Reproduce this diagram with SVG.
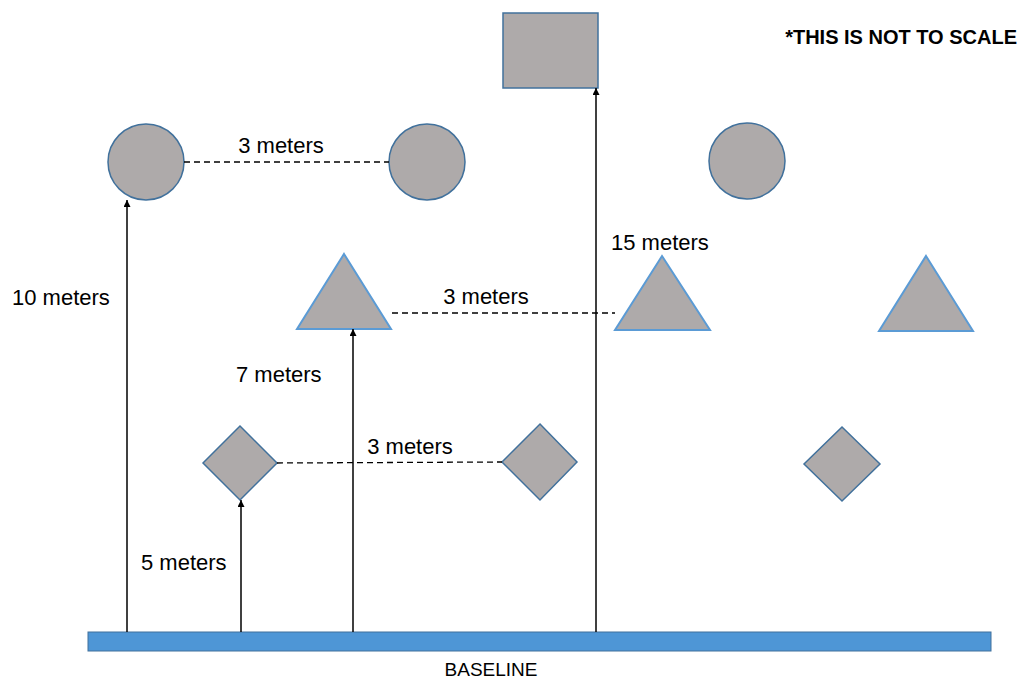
<svg xmlns="http://www.w3.org/2000/svg" width="1021" height="681" viewBox="0 0 1021 681">
<style>
.shape{fill:#aeaaaa;stroke:#41719c;stroke-width:1.5}
.tri{fill:#aeaaaa;stroke:#5b9bd5;stroke-width:2}
.lbl{font-family:"Liberation Sans",Arial,sans-serif;font-size:22px;fill:#000}
.dash{stroke:#000;stroke-width:1.3;stroke-dasharray:6 4;fill:none}
.arr{stroke:#000;stroke-width:1.5;fill:none;marker-end:url(#ah)}
</style>
<defs>
<marker id="ah" viewBox="0 0 10 10" refX="10" refY="5" markerWidth="7" markerHeight="7" orient="auto" markerUnits="userSpaceOnUse">
<path d="M0,0 L10,5 L0,10 z" fill="#000"/>
</marker>
</defs>
<rect width="1021" height="681" fill="#fff"/>
<g id="baseline">
<rect x="88" y="632" width="903" height="19" fill="#4e96d6" stroke="#41719c" stroke-width="1"/>
<text class="lbl" x="491" y="676" text-anchor="middle" style="font-size:19px">BASELINE</text>
</g>
<g id="square"><rect class="shape" x="503" y="13" width="95" height="75"/></g>
<g id="circle1"><circle class="shape" cx="146" cy="162" r="38"/></g>
<g id="circle2"><circle class="shape" cx="427" cy="162" r="38"/></g>
<g id="circle3"><circle class="shape" cx="747" cy="161" r="38"/></g>
<g id="triangle1"><polygon class="tri" points="344,254 391,329 297,329"/></g>
<g id="triangle2"><polygon class="tri" points="662,256 710,330 615,330"/></g>
<g id="triangle3"><polygon class="tri" points="926,256 973,331 879,331"/></g>
<g id="diamond1"><polygon class="shape" points="240,426 277,463 240,500 203,463"/></g>
<g id="diamond2"><polygon class="shape" points="540,424 577,462 540,500 502,462"/></g>
<g id="diamond3"><polygon class="shape" points="842,427 880,464 842,501 804,464"/></g>
<g id="connectors">
<line class="dash" x1="184" y1="162" x2="389" y2="162"/>
<line class="dash" x1="392" y1="313" x2="615" y2="313"/>
<line class="dash" x1="277" y1="463" x2="502" y2="462"/>
<line class="arr" x1="127" y1="632" x2="127" y2="200"/>
<line class="arr" x1="241" y1="632" x2="241" y2="500"/>
<line class="arr" x1="353" y1="632" x2="353" y2="329"/>
<line class="arr" x1="596" y1="632" x2="596" y2="88"/>
</g>
<g id="labels">
<text class="lbl" x="281" y="153" text-anchor="middle">3 meters</text>
<text class="lbl" x="486" y="304" text-anchor="middle">3 meters</text>
<text class="lbl" x="410" y="454" text-anchor="middle">3 meters</text>
<text class="lbl" x="12" y="305">10 meters</text>
<text class="lbl" x="236" y="382">7 meters</text>
<text class="lbl" x="141" y="570">5 meters</text>
<text class="lbl" x="611" y="250">15 meters</text>
<text class="lbl" x="1017" y="44" text-anchor="end" style="font-size:20px;font-weight:bold">*THIS IS NOT TO SCALE</text>
</g>
</svg>
